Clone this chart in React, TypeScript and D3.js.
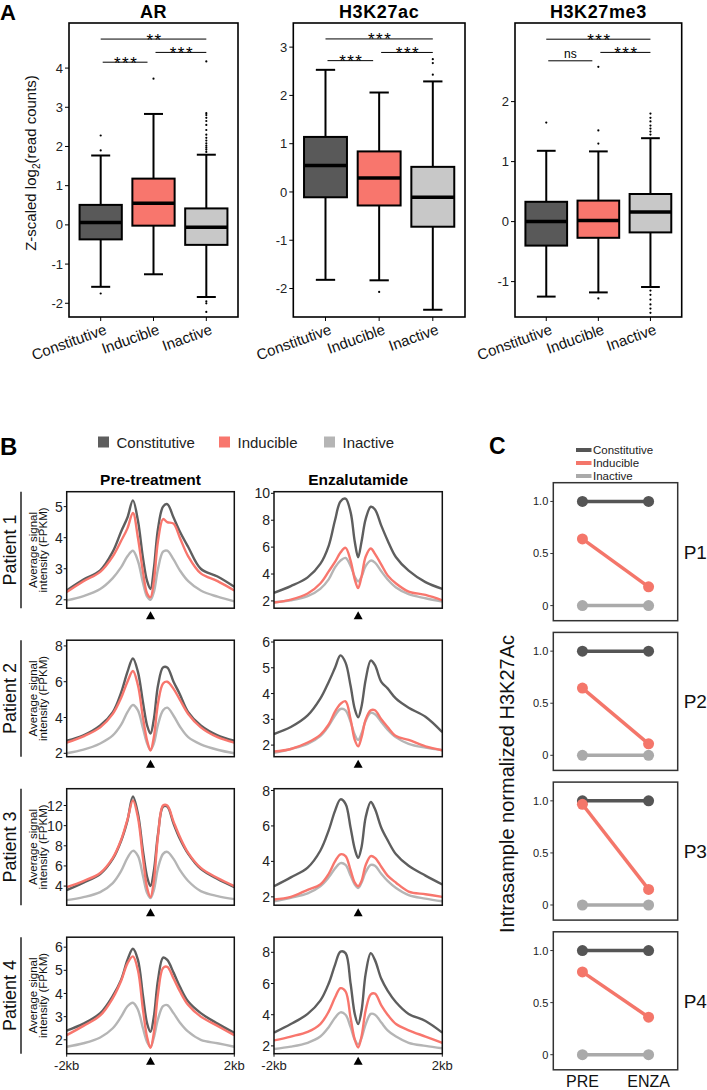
import React from "react";
import * as d3 from "d3";

// ---------- Panel A data ----------
const categories = ["Constitutive", "Inducible", "Inactive"];
const boxFills = ["#595959", "#F8766D", "#C8C8C8"];

// [lowerWhisker, q1, median, q3, upperWhisker]
const arStats = [
  [-1.58, -0.37, 0.06, 0.51, 1.77],
  [-1.26, -0.02, 0.55, 1.18, 2.83],
  [-1.84, -0.51, -0.06, 0.42, 1.79],
];
const arOutliers = [
  [1.9, 2.28, -1.75],
  [3.73],
  [1.86, 1.92, 1.97, 2.02, 2.08, 2.15, 2.22, 2.3, 2.42, 2.55, 2.65, 2.73, 2.8, 2.85, 4.17, -1.95, -2.0, -2.22],
];
const arBrackets: [number, number, number, string][] = [
  [0, 2, 4.74, "**"],
  [0, 1, 4.15, "***"],
  [1, 2, 4.4, "***"],
];
const arTicks = [-2, -1, 0, 1, 2, 3, 4];

const acStats = [
  [-1.82, -0.11, 0.55, 1.14, 2.53],
  [-1.83, -0.28, 0.29, 0.84, 2.06],
  [-2.44, -0.72, -0.11, 0.52, 2.29],
];
const acOutliers = [[], [-2.07], [2.43, 2.67, 2.75]];
const acBrackets: [number, number, number, string][] = [
  [0, 2, 3.17, "***"],
  [0, 1, 2.72, "***"],
  [1, 2, 2.89, "***"],
];
const acTicks = [-2, -1, 0, 1, 2, 3];

const meStats = [
  [-1.25, -0.4, 0.0, 0.33, 1.18],
  [-1.18, -0.27, 0.02, 0.35, 1.17],
  [-1.09, -0.18, 0.16, 0.46, 1.39],
];
const meOutliers = [
  [1.65],
  [2.58, 1.52, 1.3, -1.28],
  [1.45, 1.5, 1.55, 1.6, 1.67, 1.73, 1.8, -1.15, -1.22, -1.3, -1.38, -1.45, -1.52],
];
const meBrackets: [number, number, number, string][] = [
  [0, 2, 3.04, "***"],
  [0, 1, 2.68, "ns"],
  [1, 2, 2.82, "***"],
];
const meTicks = [-1, 0, 1, 2];

// ---------- Panel B data ----------
const profileX = [-2, -1.6, -1.2, -0.9, -0.7, -0.55, -0.42, -0.3, -0.18, -0.08, 0, 0.08, 0.18, 0.3, 0.4, 0.55, 0.7, 0.9, 1.2, 1.6, 2];

const p1PreConst = [2.3, 2.65, 2.95, 3.55, 4.2, 4.65, 5.2, 4.55, 3.35, 2.6, 2.35, 3.0, 4.3, 5.0, 5.08, 4.65, 4.2, 3.7, 3.0, 2.75, 2.42];
const p1PreInd = [2.25, 2.6, 2.9, 3.4, 3.9, 4.3, 4.8, 4.0, 2.9, 2.2, 2.08, 2.6, 3.9, 4.6, 4.5, 4.45, 4.0, 3.4, 2.85, 2.6, 2.3];
const p1PreInact = [1.98, 2.12, 2.35, 2.7, 3.05, 3.4, 3.58, 3.25, 2.55, 2.1, 2.0, 2.25, 3.0, 3.55, 3.58, 3.3, 2.95, 2.6, 2.3, 2.1, 1.95];
const p1EnzConst = [2.6, 3.1, 3.75, 4.75, 6.1, 8.0, 9.4, 9.6, 8.6, 6.4, 5.25, 6.4, 8.1, 9.0, 8.8, 7.6, 6.5, 5.25, 4.25, 3.4, 2.9];
const p1EnzInd = [1.88, 2.1, 2.55, 3.3, 4.2, 4.9, 5.6, 5.95, 5.0, 3.6, 2.95, 3.8, 5.3, 5.9, 5.5, 4.7, 3.9, 3.3, 2.7, 2.45, 2.05];
const p1EnzInact = [1.9, 2.05, 2.35, 2.9, 3.6, 4.5, 5.0, 5.2, 4.6, 3.8, 3.45, 3.8, 4.6, 5.0, 4.85, 4.2, 3.6, 3.0, 2.5, 2.2, 1.95];

const p2PreConst = [2.7, 3.0, 3.55, 4.3, 5.4, 6.55, 7.3, 6.55, 4.85, 3.55, 3.1, 3.9, 5.8, 6.8, 6.8, 6.0, 5.3, 4.3, 3.55, 3.0, 2.7];
const p2PreInd = [2.6, 2.95, 3.45, 4.2, 5.1, 6.0, 6.6, 5.8, 4.0, 2.7, 2.15, 2.9, 4.8, 5.9, 6.0, 5.6, 5.0, 4.2, 3.45, 2.9, 2.6];
const p2PreInact = [2.0, 2.2, 2.55, 3.0, 3.6, 4.3, 4.7, 4.4, 3.4, 2.55, 2.2, 2.55, 3.6, 4.4, 4.55, 4.1, 3.5, 2.9, 2.5, 2.2, 2.0];
const p2EnzConst = [2.43, 2.7, 3.15, 3.8, 4.45, 5.0, 5.48, 5.2, 4.3, 3.4, 3.08, 3.5, 4.55, 5.28, 5.1, 4.45, 4.2, 3.8, 3.45, 3.1, 2.5];
const p2EnzInd = [1.75, 1.85, 2.1, 2.4, 2.8, 3.3, 3.6, 3.7, 3.0, 2.2, 1.95, 2.3, 3.0, 3.35, 3.35, 3.0, 2.7, 2.35, 2.2, 1.95, 1.8];
const p2EnzInact = [1.7, 1.85, 2.05, 2.35, 2.75, 3.15, 3.4, 3.35, 2.9, 2.4, 2.2, 2.45, 2.95, 3.25, 3.2, 2.9, 2.6, 2.3, 2.05, 1.9, 1.8];

const p3PreConst = [3.6, 4.35, 5.2, 6.7, 8.5, 10.5, 12.9, 11.2, 7.5, 4.9, 4.0, 5.5, 9.2, 11.9, 11.9, 10.2, 8.7, 7.2, 5.7, 4.7, 3.9];
const p3PreInd = [3.9, 4.5, 5.3, 6.8, 8.6, 10.6, 12.5, 10.8, 6.8, 3.8, 2.9, 4.5, 9.0, 12.0, 12.0, 10.4, 8.9, 7.3, 5.8, 4.8, 4.0];
const p3PreInact = [2.6, 2.9, 3.4, 4.3, 5.5, 6.8, 7.5, 7.0, 5.0, 3.3, 2.8, 3.6, 5.8, 7.2, 7.4, 6.7, 5.6, 4.5, 3.5, 3.0, 2.7];
const p3EnzConst = [2.6, 3.1, 3.65, 4.6, 5.75, 6.85, 7.5, 7.25, 5.9, 4.7, 4.2, 4.8, 6.5, 7.35, 6.95, 5.9, 5.2, 4.4, 3.75, 3.2, 2.7];
const p3EnzInd = [1.85, 2.0, 2.4, 2.7, 3.3, 4.0, 4.4, 4.3, 3.5, 2.8, 2.6, 2.9, 3.8, 4.3, 4.2, 3.7, 3.2, 2.8, 2.3, 2.15, 2.0];
const p3EnzInact = [1.75, 1.95, 2.2, 2.6, 3.1, 3.6, 3.9, 3.8, 3.2, 2.7, 2.5, 2.8, 3.4, 3.8, 3.75, 3.3, 2.9, 2.5, 2.1, 1.9, 1.75];

const p4PreConst = [2.4, 2.7, 3.15, 3.9, 4.6, 5.45, 5.93, 5.45, 3.9, 2.7, 2.35, 3.0, 4.6, 5.55, 5.45, 4.9, 4.3, 3.65, 3.15, 2.7, 2.3];
const p4PreInd = [2.2, 2.6, 3.05, 3.8, 4.55, 5.3, 5.6, 5.0, 3.3, 2.1, 1.65, 2.3, 4.0, 5.1, 5.15, 4.65, 4.1, 3.5, 3.0, 2.6, 2.2];
const p4PreInact = [1.7, 1.85, 2.1, 2.5, 3.0, 3.45, 3.6, 3.3, 2.5, 1.9, 1.7, 2.1, 2.9, 3.45, 3.5, 3.15, 2.75, 2.35, 2.0, 1.85, 1.7];
const p4EnzConst = [2.85, 3.4, 4.05, 4.9, 6.0, 7.2, 8.05, 7.95, 6.0, 4.05, 3.4, 4.25, 6.65, 7.95, 7.5, 6.3, 5.55, 4.8, 4.05, 3.6, 2.85];
const p4EnzInd = [2.35, 2.6, 2.9, 3.4, 4.2, 5.1, 5.7, 5.5, 3.8, 2.4, 1.9, 2.6, 4.3, 5.3, 5.35, 4.6, 4.0, 3.4, 3.0, 2.6, 2.2];
const p4EnzInact = [1.8, 1.95, 2.2, 2.6, 3.2, 3.8, 4.15, 4.0, 3.2, 2.4, 2.1, 2.5, 3.4, 4.05, 4.0, 3.5, 3.0, 2.6, 2.2, 2.0, 1.85];

const patientLabels = ["Patient 1", "Patient 2", "Patient 3", "Patient 4"];
const preDomains = [[1.73, 5.48], [1.81, 8.32], [2.1, 13.67], [1.4, 6.43]];
const enzDomains = [[1.46, 10.12], [1.55, 6.07], [1.53, 8.1], [1.5, 8.97]];
const preTicks = [[2, 3, 4, 5], [2, 4, 6, 8], [4, 6, 8, 10, 12], [2, 3, 4, 5, 6]];
const enzTicks = [[2, 4, 6, 8, 10], [2, 3, 4, 5, 6], [2, 4, 6, 8], [2, 4, 6, 8]];
const preSeries = [
  [p1PreConst, p1PreInd, p1PreInact],
  [p2PreConst, p2PreInd, p2PreInact],
  [p3PreConst, p3PreInd, p3PreInact],
  [p4PreConst, p4PreInd, p4PreInact],
];
const enzSeries = [
  [p1EnzConst, p1EnzInd, p1EnzInact],
  [p2EnzConst, p2EnzInd, p2EnzInact],
  [p3EnzConst, p3EnzInd, p3EnzInact],
  [p4EnzConst, p4EnzInd, p4EnzInact],
];
const lineColors = ["#5E5E5E", "#F8766D", "#B5B5B5"];

// ---------- Panel C data ----------
const conditions = ["PRE", "ENZA"];
const cPatients = ["P1", "P2", "P3", "P4"];
const cConst = [[1, 1], [1, 1], [1, 1], [1, 1]];
const cInd = [[0.64, 0.18], [0.645, 0.11], [0.967, 0.15], [0.795, 0.36]];
const cInact = [[0, 0], [0, 0], [0, 0], [0, 0]];
const cTicks = [0, 0.5, 1];
const cTickLabels = ["0", "0.5", "1.0"];
const cColors = ["#555555", "#F4766A", "#AAAAAA"];

const FONT = "'Liberation Sans', Arial, Helvetica, sans-serif";

function BoxPlot({ title, stats, outliers, brackets, ticks, domain, left, right }: any) {
  const top = 23, bottom = 317;
  const x = d3.scalePoint<string>().domain(categories).range([left, right]).padding(0.6);
  const y = d3.scaleLinear().domain(domain).range([bottom, top]);
  const step = x.step();
  const bw = step * 0.8;
  const cap = step * 0.36;
  return (
    <g>
      <text x={(left + right) / 2} y={18} textAnchor="middle" fontWeight="bold" fontSize={18} letterSpacing={0.6}>{title}</text>
      {ticks.map((t: number) => (
        <g key={t}>
          <line x1={left - 4} x2={left} y1={y(t)} y2={y(t)} stroke="#000" strokeWidth={1} />
          <text x={left - 6} y={y(t)} dy="0.35em" textAnchor="end" fontSize={13} fill="#222">{String(t)}</text>
        </g>
      ))}
      {stats.map((s: number[], i: number) => {
        const cx = x(categories[i])!;
        return (
          <g key={i}>
            <line x1={cx} x2={cx} y1={y(s[0])} y2={y(s[4])} stroke="#000" strokeWidth={2} />
            <line x1={cx - cap / 2} x2={cx + cap / 2} y1={y(s[0])} y2={y(s[0])} stroke="#000" strokeWidth={2} />
            <line x1={cx - cap / 2} x2={cx + cap / 2} y1={y(s[4])} y2={y(s[4])} stroke="#000" strokeWidth={2} />
            <rect x={cx - bw / 2} y={y(s[3])} width={bw} height={y(s[1]) - y(s[3])} fill={boxFills[i]} stroke="#000" strokeWidth={2} />
            <line x1={cx - bw / 2} x2={cx + bw / 2} y1={y(s[2])} y2={y(s[2])} stroke="#000" strokeWidth={3.5} />
            {outliers[i].map((o: number, k: number) => (
              <circle key={k} cx={cx} cy={y(o)} r={1.1} fill="#000" />
            ))}
          </g>
        );
      })}
      {brackets.map((b: any, k: number) => {
        const [i, j, v, lab] = b;
        let x0 = x(categories[i])!, x1 = x(categories[j])!;
        if (j - i === 1 && i === 0) { x0 += 2; x1 -= 6; }
        if (j - i === 1 && i === 1) { x0 += 2; }
        const yy = y(v);
        return (
          <g key={k}>
            <line x1={x0} x2={x1} y1={yy} y2={yy} stroke="#000" strokeWidth={1} />
            {lab === "ns" ? (
              <text x={(x0 + x1) / 2} y={yy - 2.5} textAnchor="middle" fontSize={12} fill="#000">{lab}</text>
            ) : (
              <text x={(x0 + x1) / 2 + 1} y={yy + 6.5} textAnchor="middle" fontSize={17} letterSpacing={1.5} fill="#000">{lab}</text>
            )}
          </g>
        );
      })}
      <rect x={left} y={top} width={right - left} height={bottom - top} fill="none" stroke="#000" strokeWidth={1.6} />
      {categories.map((c) => (
        <g key={c}>
          <line x1={x(c)} x2={x(c)} y1={bottom} y2={bottom + 4} stroke="#000" strokeWidth={1} />
          <text transform={`translate(${x(c)! + 3},${bottom + 6}) rotate(-20)`} textAnchor="end" dy="0.75em" fontSize={15} fill="#111">{c}</text>
        </g>
      ))}
    </g>
  );
}

function Profile({ left, right, top, height, domain, ticks, series, showX }: any) {
  const bottom = top + height;
  const x = d3.scaleLinear().domain([-2, 2]).range([left, right]);
  const y = d3.scaleLinear().domain(domain).range([bottom, top]);
  const line = d3.line<number>().x((_, i) => x(profileX[i])).y((d) => y(d)).curve(d3.curveCatmullRom.alpha(0.5));
  const order = [2, 0, 1];
  const cx = x(0);
  return (
    <g>
      <defs>
        <clipPath id={`clip-${left}-${top}`}>
          <rect x={left} y={top} width={right - left} height={height} />
        </clipPath>
      </defs>
      <g clipPath={`url(#clip-${left}-${top})`}>
        {order.map((k) => (
          <path key={k} d={line(series[k]) || ""} fill="none" stroke={lineColors[k]} strokeWidth={2.4} strokeLinejoin="round" />
        ))}
      </g>
      <rect x={left} y={top} width={right - left} height={height} fill="none" stroke="#111" strokeWidth={1.5} />
      {ticks.map((t: number) => (
        <g key={t}>
          <line x1={left - 3} x2={left} y1={y(t)} y2={y(t)} stroke="#111" strokeWidth={1} />
          <text x={left - 4} y={y(t)} dy="0.36em" textAnchor="end" fontSize={14} fill="#222">{t}</text>
        </g>
      ))}
      <path d={`M${cx},${bottom + 3}L${cx - 4.5},${bottom + 11}L${cx + 4.5},${bottom + 11}Z`} fill="#000" />
      {showX && (
        <g>
          <line x1={left} x2={left} y1={bottom} y2={bottom + 3} stroke="#111" />
          <line x1={right} x2={right} y1={bottom} y2={bottom + 3} stroke="#111" />
          <text x={left} y={bottom + 16} textAnchor="middle" fontSize={13} fill="#222">-2kb</text>
          <text x={right} y={bottom + 16} textAnchor="middle" fontSize={13} fill="#222">2kb</text>
        </g>
      )}
    </g>
  );
}

function PanelB() {
  const preL = 66.7, preR = 234.3, enzL = 274, enzR = 442.3;
  const height = 116.5;
  const legend = [
    { label: "Constitutive", x: 98, color: "#5E5E5E" },
    { label: "Inducible", x: 219, color: "#F8766D" },
    { label: "Inactive", x: 324, color: "#B5B5B5" },
  ];
  return (
    <g>
      <text x={0} y={455} fontSize={24} fontWeight="bold">B</text>
      {legend.map((l) => (
        <g key={l.label}>
          <rect x={l.x} y={436.5} width={11} height={11} fill={l.color} />
          <text x={l.x + 18.5} y={447.5} fontSize={15} fill="#222">{l.label}</text>
        </g>
      ))}
      <text x={(preL + preR) / 2} y={485} textAnchor="middle" fontSize={15.5} fontWeight="bold">Pre-treatment</text>
      <text x={(enzL + enzR) / 2} y={485} textAnchor="middle" fontSize={15.5} fontWeight="bold">Enzalutamide</text>
      {patientLabels.map((p, i) => {
        const top = 491.7 + i * 148.5;
        const mid = top + height / 2;
        return (
          <g key={p}>
            <text transform={`translate(15.5,${mid}) rotate(-90)`} textAnchor="middle" fontSize={18} fill="#111">{p}</text>
            <line x1={21} x2={21} y1={top} y2={top + height} stroke="#222" strokeWidth={1.5} />
            <text transform={`translate(36.5,${mid}) rotate(-90)`} textAnchor="middle" fontSize={11.5} fill="#111">Average signal</text>
            <text transform={`translate(47,${mid}) rotate(-90)`} textAnchor="middle" fontSize={11.5} fill="#111">intensity (FPKM)</text>
            <Profile left={preL} right={preR} top={top} height={height} domain={preDomains[i]} ticks={preTicks[i]} series={preSeries[i]} showX={i === 3} />
            <Profile left={enzL} right={enzR} top={top} height={height} domain={enzDomains[i]} ticks={enzTicks[i]} series={enzSeries[i]} showX={i === 3} />
          </g>
        );
      })}
    </g>
  );
}

function PanelC() {
  const left = 553.3, right = 677.7, height = 138;
  const x = d3.scalePoint<string>().domain(conditions).range([left, right]).padding(0.44);
  const legend = [
    { label: "Constitutive", color: cColors[0], y: 450 },
    { label: "Inducible", color: cColors[1], y: 463 },
    { label: "Inactive", color: cColors[2], y: 476 },
  ];
  const groups = [cConst, cInd, cInact];
  const drawOrder = [2, 0, 1];
  return (
    <g>
      <text x={489} y={454} fontSize={23} fontWeight="bold">C</text>
      {legend.map((l) => (
        <g key={l.label}>
          <line x1={576} x2={591.5} y1={l.y} y2={l.y} stroke={l.color} strokeWidth={4} />
          <text x={593} y={l.y + 4} fontSize={11.5} fill="#222">{l.label}</text>
        </g>
      ))}
      <text transform={`translate(513.5,784) rotate(-90)`} textAnchor="middle" fontSize={20} fill="#111">Intrasample normalized H3K27Ac</text>
      {cPatients.map((p, i) => {
        const top = 482.7 + i * 149.7;
        const bottom = top + height;
        const y = d3.scaleLinear().domain([-0.145, 1.18]).range([bottom, top]);
        return (
          <g key={p}>
            {drawOrder.map((g) => {
              const vals = groups[g][i];
              return (
                <g key={g}>
                  <line x1={x(conditions[0])} x2={x(conditions[1])} y1={y(vals[0])} y2={y(vals[1])} stroke={cColors[g]} strokeWidth={3.5} />
                  {vals.map((v, k) => (
                    <circle key={k} cx={x(conditions[k])} cy={y(v)} r={5.5} fill={cColors[g]} />
                  ))}
                </g>
              );
            })}
            <rect x={left} y={top} width={right - left} height={height} fill="none" stroke="#333" strokeWidth={1.5} />
            {cTicks.map((t, k) => (
              <g key={t}>
                <line x1={left - 3} x2={left} y1={y(t)} y2={y(t)} stroke="#333" />
                <text x={left - 5} y={y(t)} dy="0.36em" textAnchor="end" fontSize={11} fill="#222">{cTickLabels[k]}</text>
              </g>
            ))}
            <text x={right + 6} y={(top + bottom) / 2} dy="0.36em" fontSize={19} fill="#111">{p}</text>
          </g>
        );
      })}
      {conditions.map((c) => (
        <text key={c} x={x(c)} y={1087} textAnchor="middle" fontSize={16} fill="#111">{c}</text>
      ))}
    </g>
  );
}

export default function App() {
  return (
    <div style={{ position: "absolute", left: 0, top: 0 }}>
      <svg width={707} height={1090} style={{ display: "block", fontFamily: FONT }}>
        <rect width={707} height={1090} fill="#fff" />
        <text x={0} y={20} fontSize={22} fontWeight="bold">A</text>
        <text transform="translate(36,163) rotate(-90)" textAnchor="middle" fontSize={15} fill="#111">
          Z-scaled log<tspan fontSize={10} dy={4}>2</tspan><tspan dy={-4}>(read counts)</tspan>
        </text>
        <BoxPlot title="AR" stats={arStats} outliers={arOutliers} brackets={arBrackets} ticks={arTicks} domain={[-2.35, 5.15]} left={69} right={238} />
        <BoxPlot title="H3K27ac" stats={acStats} outliers={acOutliers} brackets={acBrackets} ticks={acTicks} domain={[-2.59, 3.5]} left={293.3} right={465} />
        <BoxPlot title="H3K27me3" stats={meStats} outliers={meOutliers} brackets={meBrackets} ticks={meTicks} domain={[-1.59, 3.31]} left={515} right={681.7} />
        <PanelB />
        <PanelC />
      </svg>
    </div>
  );
}
